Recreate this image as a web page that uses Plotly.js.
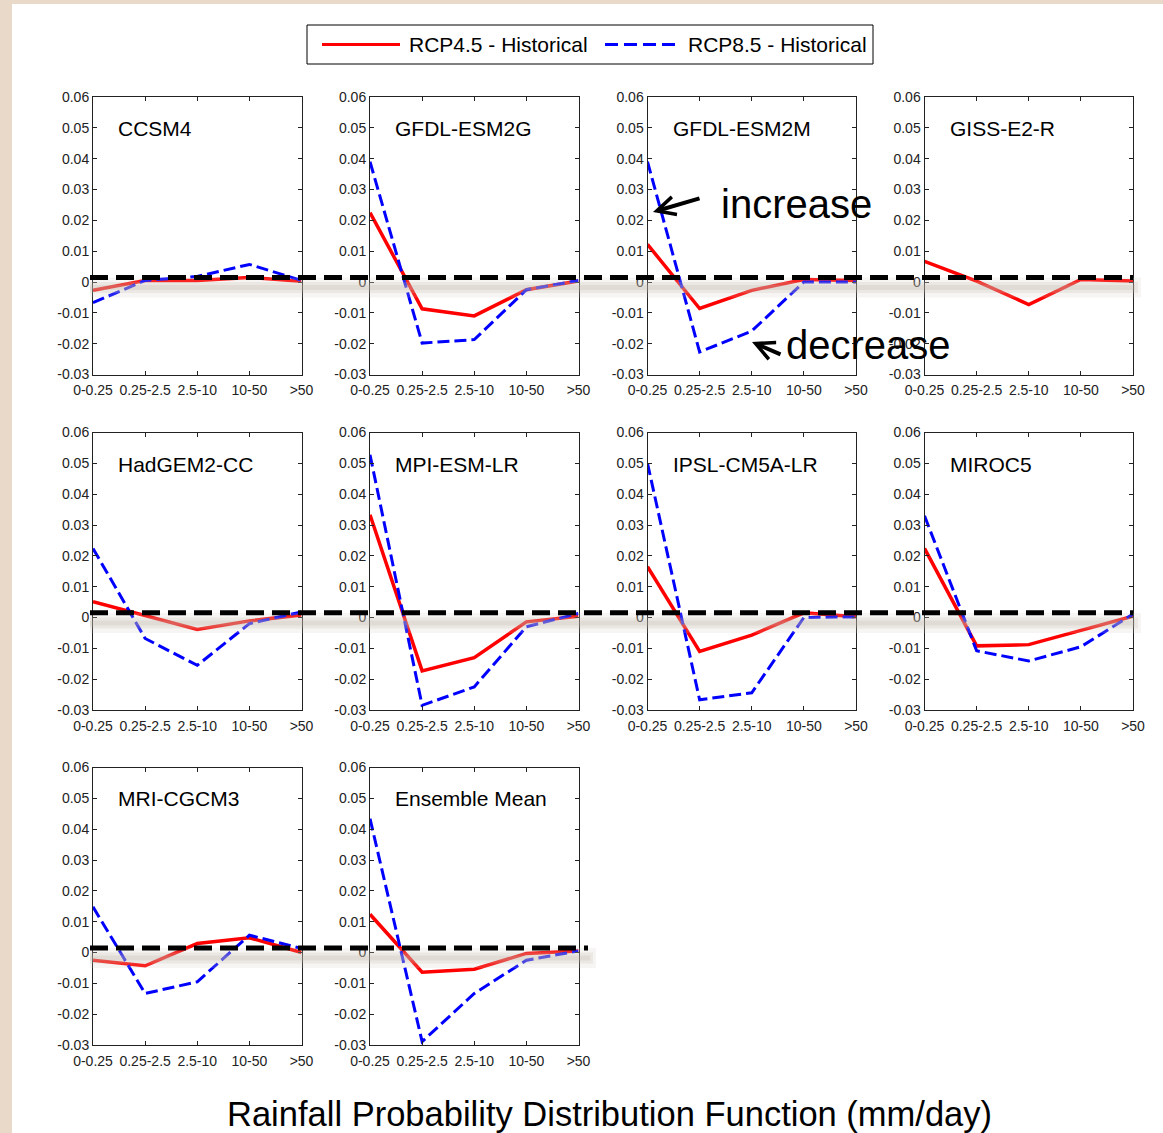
<!DOCTYPE html>
<html>
<head>
<meta charset="utf-8">
<script src="https://cdn.plot.ly/plotly-3.0.1.min.js"></script>
<style>
  html, body { margin: 0; padding: 0; background: #e8d9c8; }
  #chart { width: 1163px; height: 1133px; }
</style>
</head>
<body>
<div id="chart"></div>
<script>
// ---------------- DATA ----------------
const categories = ['0-0.25', '0.25-2.5', '2.5-10', '10-50', '>50'];
const models = ['CCSM4', 'GFDL-ESM2G', 'GFDL-ESM2M', 'GISS-E2-R',
                'HadGEM2-CC', 'MPI-ESM-LR', 'IPSL-CM5A-LR', 'MIROC5',
                'MRI-CGCM3', 'Ensemble Mean'];

// RCP4.5 - Historical
const rcp45_CCSM4      = [-0.0027,  0.0005,  0.0005,  0.0015,  0.0002];
const rcp45_GFDL_ESM2G = [ 0.0225, -0.0087, -0.0110, -0.0025,  0.0003];
const rcp45_GFDL_ESM2M = [ 0.0122, -0.0086, -0.0027,  0.0008,  0.0005];
const rcp45_GISS_E2_R  = [ 0.0067,  0.0003, -0.0073,  0.0008,  0.0003];
const rcp45_HadGEM2_CC = [ 0.0051,  0.0005, -0.0039, -0.0011,  0.0008];
const rcp45_MPI_ESM_LR = [ 0.0333, -0.0173, -0.0130, -0.0014,  0.0004];
const rcp45_IPSL       = [ 0.0165, -0.0110, -0.0057,  0.0015,  0.0002];
const rcp45_MIROC5     = [ 0.0224, -0.0092, -0.0088, -0.0041,  0.0004];
const rcp45_MRI_CGCM3  = [-0.0025, -0.0043,  0.0029,  0.0048,  0.0000];
const rcp45_Ensemble   = [ 0.0124, -0.0064, -0.0054, -0.0003,  0.0005];

// RCP8.5 - Historical
const rcp85_CCSM4      = [-0.0067,  0.0005,  0.0018,  0.0057,  0.0005];
const rcp85_GFDL_ESM2G = [ 0.0390, -0.0198, -0.0187, -0.0025,  0.0005];
const rcp85_GFDL_ESM2M = [ 0.0390, -0.0227, -0.0159,  0.0000,  0.0000];
const rcp85_GISS_E2_R  = [];
const rcp85_HadGEM2_CC = [ 0.0224, -0.0068, -0.0155, -0.0020,  0.0018];
const rcp85_MPI_ESM_LR = [ 0.0528, -0.0285, -0.0225, -0.0030,  0.0013];
const rcp85_IPSL       = [ 0.0500, -0.0267, -0.0244,  0.0000,  0.0002];
const rcp85_MIROC5     = [ 0.0330, -0.0108, -0.0141, -0.0095,  0.0011];
const rcp85_MRI_CGCM3  = [ 0.0148, -0.0133, -0.0095,  0.0056,  0.0013];
const rcp85_Ensemble   = [ 0.0434, -0.0289, -0.0133, -0.0025,  0.0005];

const yTickVals = [-0.03, -0.02, -0.01, 0, 0.01, 0.02, 0.03, 0.04, 0.05, 0.06];
const yTickText = ['-0.03', '-0.02', '-0.01', '0', '0.01', '0.02', '0.03', '0.04', '0.05', '0.06'];
const referenceLevel = 0.0015;
const xTitle = 'Rainfall Probability Distribution Function (mm/day)';
const seriesNames = ['RCP4.5 - Historical', 'RCP8.5 - Historical'];

const rcp45 = [rcp45_CCSM4, rcp45_GFDL_ESM2G, rcp45_GFDL_ESM2M, rcp45_GISS_E2_R,
               rcp45_HadGEM2_CC, rcp45_MPI_ESM_LR, rcp45_IPSL, rcp45_MIROC5,
               rcp45_MRI_CGCM3, rcp45_Ensemble];
const rcp85 = [rcp85_CCSM4, rcp85_GFDL_ESM2G, rcp85_GFDL_ESM2M, rcp85_GISS_E2_R,
               rcp85_HadGEM2_CC, rcp85_MPI_ESM_LR, rcp85_IPSL, rcp85_MIROC5,
               rcp85_MRI_CGCM3, rcp85_Ensemble];

// ---------------- LAYOUT ----------------
const W = 1163, H = 1133;
const px = v => v / W;
const py = v => 1 - v / H;
const FONT = 'Liberation Sans, Arial, sans-serif';
const RED = '#ff0000', BLUE = '#0000ff';

const colLeft = [93, 370, 647.5, 924.5];
const rowTop = [97, 432.5, 767.5];
const pw = 208.5, ph = 277.5;

const traces = [];
const layout = {
  width: W, height: H,
  margin: {l: 0, r: 0, t: 0, b: 0},
  paper_bgcolor: '#e8d9c8',
  plot_bgcolor: '#ffffff',
  showlegend: false,
  font: {family: FONT, color: '#222'},
  shapes: [],
  annotations: []
};

// white page
layout.shapes.push({type: 'rect', xref: 'paper', yref: 'paper', layer: 'below',
  x0: px(12), x1: 1, y0: 0, y1: py(4), fillcolor: '#ffffff', line: {width: 0}});

models.forEach((m, i) => {
  const r = Math.floor(i / 4), c = i % 4;
  const n = i + 1;
  const xa = n === 1 ? 'x' : 'x' + n;
  const ya = n === 1 ? 'y' : 'y' + n;
  const xk = n === 1 ? 'xaxis' : 'xaxis' + n;
  const yk = n === 1 ? 'yaxis' : 'yaxis' + n;
  layout[xk] = {
    domain: [px(colLeft[c]), px(colLeft[c] + pw)], anchor: ya,
    type: 'category', range: [0, 4], categoryorder: 'array', categoryarray: categories,
    showline: true, mirror: 'ticks', linecolor: '#222', linewidth: 1,
    ticks: 'inside', ticklen: 4, tickcolor: '#222', tickwidth: 1,
    ticklabelstandoff: 3,
    showgrid: false, zeroline: false, automargin: false, fixedrange: true,
    tickfont: {family: FONT, size: 14, color: '#222'}
  };
  layout[yk] = {
    domain: [py(rowTop[r] + ph), py(rowTop[r])], anchor: xa,
    range: [-0.03, 0.06], tickvals: yTickVals, ticktext: yTickText,
    showline: true, mirror: 'ticks', linecolor: '#222', linewidth: 1,
    ticks: 'inside', ticklen: 4, tickcolor: '#222', tickwidth: 1,
    showgrid: false, zeroline: false, automargin: false, fixedrange: true,
    tickfont: {family: FONT, size: 14, color: '#222'}
  };
  traces.push({type: 'scatter', mode: 'lines', x: categories, y: rcp45[i],
    xaxis: xa, yaxis: ya, name: seriesNames[0],
    line: {color: RED, width: 3.5}});
  if (rcp85[i].length) {
    traces.push({type: 'scatter', mode: 'lines', x: categories, y: rcp85[i],
      xaxis: xa, yaxis: ya, name: seriesNames[1],
      line: {color: BLUE, width: 3, dash: '12px,5px'}});
  }
  layout.annotations.push({xref: 'paper', yref: 'paper',
    x: px(colLeft[c] + 23), y: py(rowTop[r] + 31.5), xanchor: 'left', yanchor: 'middle',
    text: m, showarrow: false, font: {family: FONT, size: 21, color: '#000'}});
});

// reference dashed lines with soft shadow, one per row
const rowSpan = [[90, 1133], [90, 1133], [90, 588]];
const rowAxis = ['y', 'y5', 'y9'];
rowSpan.forEach((s, r) => {
  layout.shapes.push({type: 'line', xref: 'paper', yref: rowAxis[r], layer: 'above',
    x0: px(s[0]), x1: px(s[1] + 8), y0: -0.0018, y1: -0.0018,
    line: {color: 'rgba(210,200,190,0.18)', width: 20}});
  layout.shapes.push({type: 'line', xref: 'paper', yref: rowAxis[r], layer: 'above',
    x0: px(s[0]), x1: px(s[1] + 5), y0: -0.0018, y1: -0.0018,
    line: {color: 'rgba(195,185,175,0.22)', width: 11}});
  layout.shapes.push({type: 'line', xref: 'paper', yref: rowAxis[r], layer: 'above',
    x0: px(s[0]), x1: px(s[1] + 2), y0: -0.0018, y1: -0.0018,
    line: {color: 'rgba(185,175,165,0.22)', width: 5}});
  layout.shapes.push({type: 'line', xref: 'paper', yref: rowAxis[r], layer: 'above',
    x0: px(s[0]), x1: px(s[1]), y0: referenceLevel, y1: referenceLevel,
    line: {color: '#000', width: 5, dash: '18px,8px'}});
});

// legend (drawn manually)
layout.shapes.push({type: 'rect', xref: 'paper', yref: 'paper', layer: 'above',
  x0: px(307), x1: px(873), y0: py(64), y1: py(25), fillcolor: '#fff',
  line: {color: '#000', width: 1}});
layout.shapes.push({type: 'line', xref: 'paper', yref: 'paper',
  x0: px(322), x1: px(400), y0: py(44.5), y1: py(44.5), line: {color: RED, width: 3}});
layout.shapes.push({type: 'line', xref: 'paper', yref: 'paper',
  x0: px(605), x1: px(680), y0: py(44.5), y1: py(44.5), line: {color: BLUE, width: 3, dash: '13px,6px'}});
layout.annotations.push({xref: 'paper', yref: 'paper', x: px(407), y: py(45),
  xanchor: 'left', yanchor: 'middle', text: seriesNames[0], showarrow: false,
  font: {family: FONT, size: 21, color: '#000'}});
layout.annotations.push({xref: 'paper', yref: 'paper', x: px(686), y: py(45),
  xanchor: 'left', yanchor: 'middle', text: seriesNames[1], showarrow: false,
  font: {family: FONT, size: 21, color: '#000'}});

// x title
layout.annotations.push({xref: 'paper', yref: 'paper', x: px(610), y: py(1114),
  xanchor: 'center', yanchor: 'middle', text: xTitle, showarrow: false,
  font: {family: FONT, size: 34.5, color: '#000'}});

// increase / decrease callouts
layout.annotations.push({xref: 'paper', yref: 'paper', x: px(719), y: py(204),
  xanchor: 'left', yanchor: 'middle', text: 'increase', showarrow: false,
  font: {family: FONT, size: 40, color: '#000'}});
layout.annotations.push({xref: 'paper', yref: 'paper', x: px(784), y: py(345),
  xanchor: 'left', yanchor: 'middle', text: 'decrease', showarrow: false,
  font: {family: FONT, size: 40, color: '#000'}});
layout.annotations.push({xref: 'paper', yref: 'paper', x: px(653), y: py(212),
  text: '', showarrow: true, ax: 48, ay: -14, arrowhead: 5, arrowsize: 0.9,
  arrowwidth: 4, arrowcolor: '#000', standoff: 0});
layout.annotations.push({xref: 'paper', yref: 'paper', x: px(752), y: py(342),
  text: '', showarrow: true, ax: 30, ay: 13, arrowhead: 5, arrowsize: 0.9,
  arrowwidth: 4, arrowcolor: '#000', standoff: 0});

Plotly.newPlot('chart', traces, layout, {staticPlot: true, displayModeBar: false});
</script>
</body>
</html>
